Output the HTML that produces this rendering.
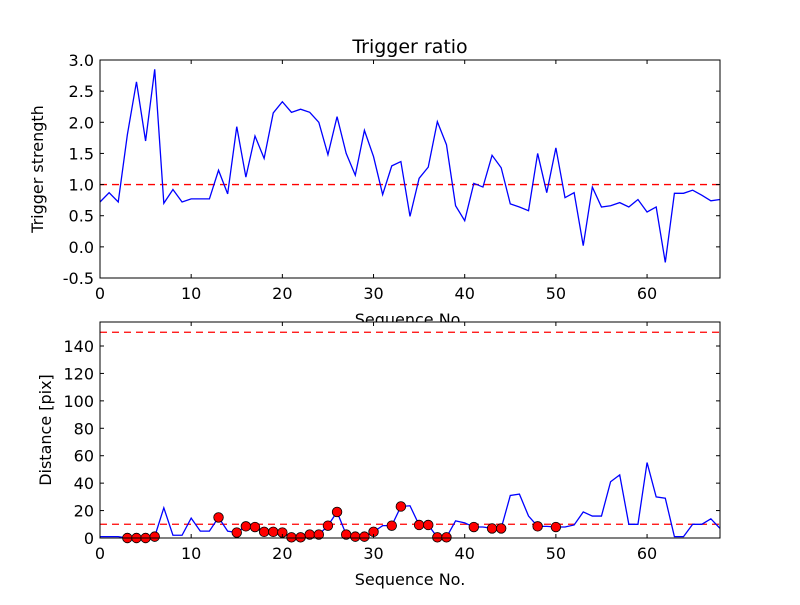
<!DOCTYPE html>
<html><head><meta charset="utf-8"><style>
body{margin:0;background:#fff;width:800px;height:600px;overflow:hidden}
svg text{font-family:"DejaVu Sans","Liberation Sans",sans-serif;fill:#000}
</style></head><body>
<svg id="c" width="800" height="600" xmlns="http://www.w3.org/2000/svg"></svg>
<script>
const seqTop=[0.72,0.87,0.72,1.8,2.65,1.7,2.85,0.7,0.92,0.72,0.77,0.77,0.77,1.23,0.85,1.93,1.12,1.78,1.42,2.15,2.33,2.16,2.21,2.16,2.0,1.48,2.09,1.5,1.15,1.87,1.45,0.84,1.3,1.37,0.49,1.1,1.28,2.01,1.64,0.66,0.42,1.02,0.96,1.47,1.27,0.69,0.64,0.58,1.5,0.87,1.59,0.79,0.87,0.02,0.96,0.64,0.66,0.71,0.64,0.76,0.56,0.64,-0.25,0.86,0.86,0.91,0.83,0.74,0.76];
const distance=[1,1,1,0,0,0,1,22,2,2,14.5,5,5,15,5,4,8.5,8,4.5,4.5,4,0.5,0.5,2.5,2.5,9,19,2.5,1,1,4.5,9,9,23,23.5,9.5,9.5,0.5,0.5,12.5,11,8,8,7,7,31,32,16,8.5,8.5,8,8,9.5,19,16,16,41,46,10,10,55,30,29,1,1,10,10,14,7];
const dotIdx=[3,4,5,6,13,15,16,17,18,19,20,21,22,23,24,25,26,27,28,29,30,32,33,35,36,37,38,41,43,44,48,50];
const xTicks=[0,10,20,30,40,50,60];
const topTicks=[-0.5,0,0.5,1,1.5,2,2.5,3];
const botTicks=[0,20,40,60,80,100,120,140];
const topThresh=[1.0];
const botThresh=[10,150];

const svg=document.getElementById('c');
const NS='http://www.w3.org/2000/svg';
function mk(t,a,p){const e=document.createElementNS(NS,t);for(const k in a)e.setAttribute(k,a[k]);(p||svg).appendChild(e);return e;}
const L=100,R=720;
const sx=v=>L+(v-0)/68*(R-L);

function panel(name,top,bot,ymin,ymax,ticks,data,thresh){
  const sy=v=>bot-(v-ymin)/(ymax-ymin)*(bot-top);
  const g=mk('g',{});
  
  
  mk('rect',{x:L,y:top,width:R-L,height:bot-top,fill:'#fff'},g);
  const th=mk('g',{},g);
  
  
  thresh.forEach(t=>mk('line',{x1:L,x2:R,y1:sy(t),y2:sy(t),stroke:'#f00','stroke-width':1.3,'stroke-dasharray':'7,5'},th));
  const pts=data.map((v,i)=>sx(i).toFixed(2)+','+sy(v).toFixed(2)).join(' ');
  const pl=mk('polyline',{points:pts,fill:'none',stroke:'#00f','stroke-width':1.3},g);
  
  
  return {g,sy};
}
function frame(g,top,bot,ymin,ymax,ticks,sy,ylab,name){
  mk('rect',{x:L,y:top,width:R-L,height:bot-top,fill:'none',stroke:'#000','stroke-width':1},g);
  xTicks.forEach(t=>{
    const x=sx(t);
    mk('line',{x1:x,x2:x,y1:bot,y2:bot-4,stroke:'#000'},g);
    mk('line',{x1:x,x2:x,y1:top,y2:top+4,stroke:'#000'},g);
    const tx=mk('text',{x:x,y:bot+21,'text-anchor':'middle','font-size':16},g);
    tx.textContent=t;
    
    
  });
  ticks.forEach(t=>{
    const y=sy(t);
    mk('line',{x1:L,x2:L+4,y1:y,y2:y,stroke:'#000'},g);
    mk('line',{x1:R,x2:R-4,y1:y,y2:y,stroke:'#000'},g);
    const tx=mk('text',{x:L-6,y:y+6,'text-anchor':'end','font-size':16},g);
    tx.textContent=(ymax<10)?t.toFixed(1):t;
    
    
  });
  const xl=mk('text',{x:(L+R)/2,y:bot+47,'text-anchor':'middle','font-size':16},g);
  xl.textContent='Sequence No.';
  
  
  const cy=(top+bot)/2;
  const yl=mk('text',{x:0,y:0,'text-anchor':'middle','font-size':16,transform:`translate(${name==='top'?43:51},${cy}) rotate(-90)`},g);
  yl.textContent=ylab;
  
  
}
const T=panel('top',60,278,-0.5,3.0,topTicks,seqTop,topThresh);
frame(T.g,60,278,-0.5,3.0,topTicks,T.sy,'Trigger strength','top');
const ti=mk('text',{x:410,y:53,'text-anchor':'middle','font-size':19});
ti.textContent='Trigger ratio';


const B=panel('bottom',322,538,0,157.5,botTicks,distance,botThresh);
const dg=mk('g',{},B.g);


dotIdx.forEach(i=>{
  const c=mk('circle',{cx:sx(i),cy:B.sy(distance[i]),r:4.8,fill:'#f00',stroke:'#000','stroke-width':0.8},dg);
  
  
});
frame(B.g,322,538,0,157.5,botTicks,B.sy,'Distance [pix]','bottom');
</script>
</body></html>
